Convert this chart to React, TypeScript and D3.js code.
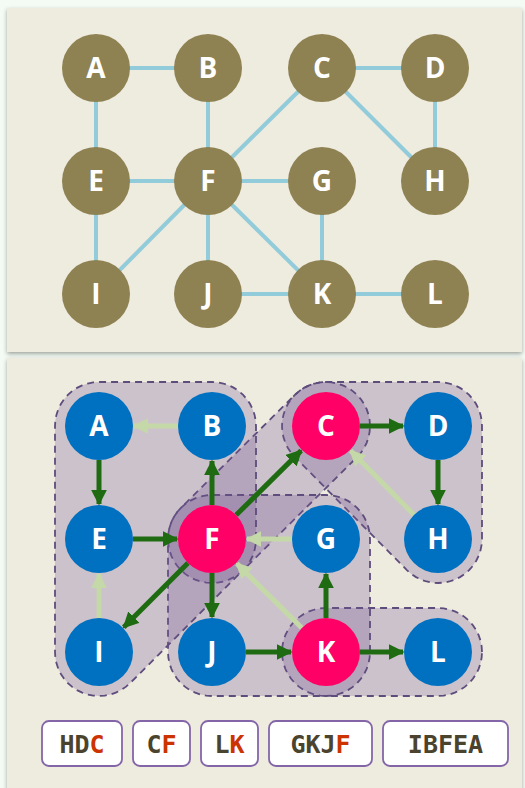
import { useRef, useEffect } from "react";
import * as d3 from "d3";

const nodeNames = ["A", "B", "C", "D", "E", "F", "G", "H", "I", "J", "K", "L"];
const colsX = [96, 208, 322, 435];
const topRowsY = [68, 181, 294];
const botColsX = [99, 212, 326, 438];
const botRowsY = [426, 539, 652];
const edges = [
    ["A", "B"], ["A", "E"], ["B", "F"], ["C", "D"], ["C", "F"], ["D", "H"], ["C", "H"], ["E", "F"],
    ["F", "G"], ["E", "I"], ["F", "I"], ["F", "J"], ["F", "K"], ["G", "K"], ["J", "K"], ["K", "L"],
];
// [from, to, isTreeEdge]
const arcs: [string, string, boolean][] = [
    ["B", "A", false], ["A", "E", true], ["E", "F", true], ["F", "B", true], ["F", "C", true],
    ["C", "D", true], ["D", "H", true], ["H", "C", false], ["G", "F", false], ["F", "I", true],
    ["F", "J", true], ["I", "E", false], ["J", "K", true], ["K", "G", true], ["K", "F", false],
    ["K", "L", true],
];
const rootNodes = ["C", "F", "K"];
const groups = [["H", "D", "C"], ["C", "F"], ["L", "K"], ["G", "K", "J", "F"], ["I", "B", "F", "E", "A"]];

export default function App() {
    const svgRef = useRef<SVGSVGElement | null>(null);
    useEffect(() => {
        const svg = d3.select(svgRef.current);
        svg.selectAll("*").remove();
        const pos = (name: string, xs: number[], ys: number[]) => {
            const i = nodeNames.indexOf(name);
            return [xs[i % 4], ys[Math.floor(i / 4)]];
        };
        const r = 34;

        const defs = svg.append("defs");
        const f = defs.append("filter").attr("id", "sh").attr("x", "-5%").attr("y", "-5%").attr("width", "110%").attr("height", "110%");
        f.append("feDropShadow").attr("dx", 0).attr("dy", 2).attr("stdDeviation", 2).attr("flood-color", "#000").attr("flood-opacity", 0.35);
        ["dk", "lt"].forEach((id) => {
            defs.append("marker").attr("id", id).attr("viewBox", "0 0 10 10").attr("refX", 9).attr("refY", 5)
                .attr("markerWidth", 3.2).attr("markerHeight", 3.2).attr("orient", "auto")
                .append("path").attr("d", "M0,0L10,5L0,10Z").attr("fill", id === "dk" ? "#1e6b12" : "#c5d8a8");
        });

        // panels
        svg.append("rect").attr("x", 7).attr("y", 8).attr("width", 515).attr("height", 344).attr("fill", "#eeebdf").attr("filter", "url(#sh)");
        svg.append("rect").attr("x", 7).attr("y", 358).attr("width", 515).attr("height", 440).attr("fill", "#eeebdf").attr("filter", "url(#sh)");

        // top graph
        edges.forEach(([a, b]) => {
            const p = pos(a, colsX, topRowsY), q = pos(b, colsX, topRowsY);
            svg.append("line").attr("x1", p[0]).attr("y1", p[1]).attr("x2", q[0]).attr("y2", q[1])
                .attr("stroke", "#92cbd9").attr("stroke-width", 4);
        });
        nodeNames.forEach((n) => {
            const p = pos(n, colsX, topRowsY);
            svg.append("circle").attr("cx", p[0]).attr("cy", p[1]).attr("r", r).attr("fill", "#8e8152");
            svg.append("text").attr("x", p[0]).attr("y", p[1] + 10).attr("text-anchor", "middle")
                .attr("font-family", "'Open Sans', sans-serif").attr("font-weight", 700).attr("font-size", 28)
                .attr("fill", "#fff").text(n);
        });

        // hulls
        const pad = 44;
        groups.forEach((g) => {
            const pts: [number, number][] = [];
            g.forEach((n) => {
                const p = pos(n, botColsX, botRowsY);
                for (let k = 0; k < 48; k++) {
                    const a = (k / 48) * Math.PI * 2;
                    pts.push([p[0] + pad * Math.cos(a), p[1] + pad * Math.sin(a)]);
                }
            });
            const hull = d3.polygonHull(pts)!;
            svg.append("path").attr("d", "M" + hull.join("L") + "Z")
                .attr("fill", "rgba(120,90,150,0.28)").attr("stroke", "#5d4c7c")
                .attr("stroke-width", 1.8).attr("stroke-dasharray", "7,5");
        });

        // arcs
        arcs.forEach(([a, b, dark]) => {
            const p = pos(a, botColsX, botRowsY), q = pos(b, botColsX, botRowsY);
            const dx = q[0] - p[0], dy = q[1] - p[1], L = Math.hypot(dx, dy);
            const ux = dx / L, uy = dy / L;
            svg.append("line").attr("x1", p[0] + ux * r).attr("y1", p[1] + uy * r)
                .attr("x2", q[0] - ux * (r + 1)).attr("y2", q[1] - uy * (r + 1))
                .attr("stroke", dark ? "#1e6b12" : "#c5d8a8").attr("stroke-width", 5)
                .attr("marker-end", `url(#${dark ? "dk" : "lt"})`);
        });
        nodeNames.forEach((n) => {
            const p = pos(n, botColsX, botRowsY);
            svg.append("circle").attr("cx", p[0]).attr("cy", p[1]).attr("r", r)
                .attr("fill", rootNodes.includes(n) ? "#ff0066" : "#0070c0");
            svg.append("text").attr("x", p[0]).attr("y", p[1] + 10).attr("text-anchor", "middle")
                .attr("font-family", "'Open Sans', sans-serif").attr("font-weight", 700).attr("font-size", 28)
                .attr("fill", "#fff").text(n);
        });

        // component labels
        const boxX = [42, 133, 201, 269, 383];
        const boxW = [80, 57, 57, 103, 125];
        groups.forEach((g, i) => {
            svg.append("rect").attr("x", boxX[i]).attr("y", 721).attr("width", boxW[i]).attr("height", 45).attr("rx", 7)
                .attr("fill", "#fff").attr("stroke", "#8466a8").attr("stroke-width", 1.8);
            const t = svg.append("text").attr("x", boxX[i] + boxW[i] / 2).attr("y", 753).attr("text-anchor", "middle")
                .attr("font-family", "'DejaVu Sans Mono', monospace").attr("font-weight", 700).attr("font-size", 25);
            g.forEach((n) => t.append("tspan").attr("fill", rootNodes.includes(n) && i !== 4 && n === g[g.length - 1] ? "#cc3300" : "#4a432e").text(n));
        });
    }, []);
    return (
        <svg ref={svgRef} width={525} height={788} style={{ position: "absolute", left: 0, top: 0, background: "#f4fbf4" }} />
    );
}
